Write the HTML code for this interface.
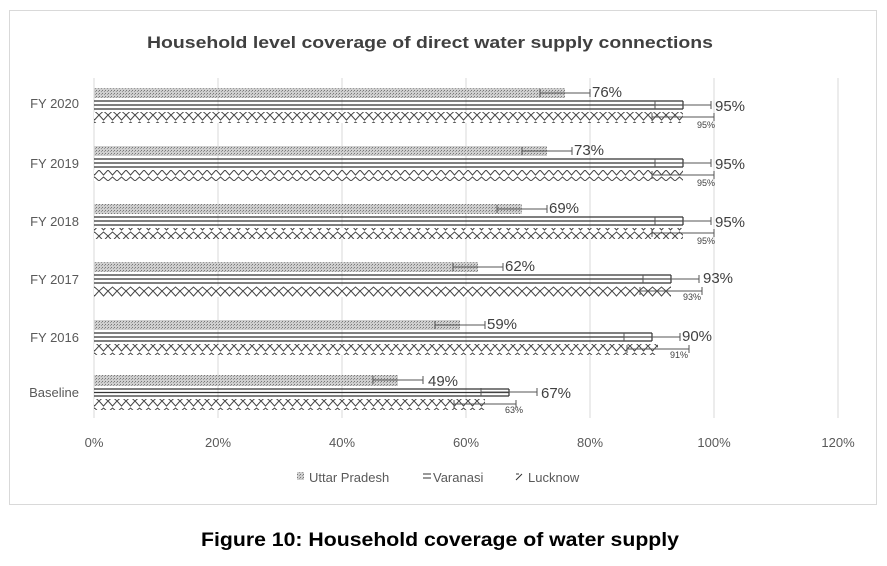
<!DOCTYPE html>
<html><head><meta charset="utf-8"><style>
html,body{margin:0;padding:0;background:#fff;}
svg{display:block;font-family:"Liberation Sans","DejaVu Sans",sans-serif;}
</style></head><body>
<svg width="887" height="566" viewBox="0 0 887 566" xmlns="http://www.w3.org/2000/svg">
<defs>
<pattern id="dots" width="3" height="3" patternUnits="userSpaceOnUse">
<rect width="3" height="3" fill="#cfcfcf"/><rect width="1" height="1" fill="#777"/><rect x="2" y="1" width="1" height="1" fill="#999"/>
</pattern>
<pattern id="zig" width="9" height="11" patternUnits="userSpaceOnUse">
<rect width="9" height="11" fill="#fff"/>
<path d="M0,5 L4.5,1 L9,5 M0,5 L4.5,10 L9,5" stroke="#444" stroke-width="1" fill="none"/>
</pattern>
</defs>
<rect x="9.5" y="10.5" width="867" height="494" fill="#fff" stroke="#d9d9d9"/>
<text x="430" y="48" text-anchor="middle" font-size="17" font-weight="bold" fill="#404040" textLength="566" lengthAdjust="spacingAndGlyphs">Household level coverage of direct water supply connections</text>
<g stroke="#d9d9d9" stroke-width="1">
<line x1="94" y1="78" x2="94" y2="418"/><line x1="218" y1="78" x2="218" y2="418"/><line x1="342" y1="78" x2="342" y2="418"/><line x1="466" y1="78" x2="466" y2="418"/><line x1="590" y1="78" x2="590" y2="418"/><line x1="714" y1="78" x2="714" y2="418"/><line x1="838" y1="78" x2="838" y2="418"/>
</g>
<g font-size="13" fill="#595959" text-anchor="middle">
<text x="94" y="447">0%</text><text x="218" y="447">20%</text><text x="342" y="447">40%</text><text x="466" y="447">60%</text><text x="590" y="447">80%</text><text x="714" y="447">100%</text><text x="838" y="447">120%</text>
</g>
<g font-size="13" fill="#595959" text-anchor="end">
<text x="79" y="108">FY 2020</text><text x="79" y="168">FY 2019</text><text x="79" y="226">FY 2018</text><text x="79" y="284">FY 2017</text><text x="79" y="342">FY 2016</text><text x="79" y="397">Baseline</text>
</g>
<g id="bars">
<rect x="94" y="88" width="471" height="10" fill="url(#dots)"/>
<g stroke="#333" stroke-width="1.2"><line x1="94" y1="101" x2="683" y2="101"/><line x1="94" y1="105" x2="683" y2="105"/><line x1="94" y1="109" x2="683" y2="109"/><line x1="683" y1="101" x2="683" y2="109"/></g>
<rect x="94" y="112" width="589" height="11" fill="url(#zig)"/>
<rect x="94" y="146" width="453" height="10" fill="url(#dots)"/>
<g stroke="#333" stroke-width="1.2"><line x1="94" y1="159" x2="683" y2="159"/><line x1="94" y1="163" x2="683" y2="163"/><line x1="94" y1="167" x2="683" y2="167"/><line x1="683" y1="159" x2="683" y2="167"/></g>
<rect x="94" y="170" width="589" height="11" fill="url(#zig)"/>
<rect x="94" y="204" width="428" height="10" fill="url(#dots)"/>
<g stroke="#333" stroke-width="1.2"><line x1="94" y1="217" x2="683" y2="217"/><line x1="94" y1="221" x2="683" y2="221"/><line x1="94" y1="225" x2="683" y2="225"/><line x1="683" y1="217" x2="683" y2="225"/></g>
<rect x="94" y="228" width="589" height="11" fill="url(#zig)"/>
<rect x="94" y="262" width="384" height="10" fill="url(#dots)"/>
<g stroke="#333" stroke-width="1.2"><line x1="94" y1="275" x2="671" y2="275"/><line x1="94" y1="279" x2="671" y2="279"/><line x1="94" y1="283" x2="671" y2="283"/><line x1="671" y1="275" x2="671" y2="283"/></g>
<rect x="94" y="286" width="577" height="11" fill="url(#zig)"/>
<rect x="94" y="320" width="366" height="10" fill="url(#dots)"/>
<g stroke="#333" stroke-width="1.2"><line x1="94" y1="333" x2="652" y2="333"/><line x1="94" y1="337" x2="652" y2="337"/><line x1="94" y1="341" x2="652" y2="341"/><line x1="652" y1="333" x2="652" y2="341"/></g>
<rect x="94" y="344" width="564" height="11" fill="url(#zig)"/>
<rect x="94" y="375" width="304" height="11" fill="url(#dots)"/>
<g stroke="#333" stroke-width="1.2"><line x1="94" y1="389" x2="509" y2="389"/><line x1="94" y1="392.5" x2="509" y2="392.5"/><line x1="94" y1="396" x2="509" y2="396"/><line x1="509" y1="389" x2="509" y2="396"/></g>
<rect x="94" y="399" width="391" height="11" fill="url(#zig)"/>
</g>
<g stroke="#555" stroke-width="1" fill="none">
<path d="M540,93H590M540,89V97M590,89V97"/><path d="M655,105H711M655,101V109M711,101V109"/><path d="M652,117H714M652,113V121M714,113V121"/>
<path d="M522,151H572M522,147V155M572,147V155"/><path d="M655,163H711M655,159V167M711,159V167"/><path d="M652,175H714M652,171V179M714,171V179"/>
<path d="M497,209H547M497,205V213M547,205V213"/><path d="M655,221H711M655,217V225M711,217V225"/><path d="M652,233H714M652,229V237M714,229V237"/>
<path d="M453,267H503M453,263V271M503,263V271"/><path d="M643,279H699M643,275V283M699,275V283"/><path d="M640,291H702M640,287V295M702,287V295"/>
<path d="M435,325H485M435,321V329M485,321V329"/><path d="M624,337H680M624,333V341M680,333V341"/><path d="M627,349H689M627,345V353M689,345V353"/>
<path d="M373,380H423M373,376V384M423,376V384"/><path d="M481,392H537M481,388V396M537,388V396"/><path d="M454,404H516M454,400V408M516,400V408"/>
</g>
<g font-size="15" fill="#404040">
<text x="592" y="97">76%</text><text x="715" y="111">95%</text>
<text x="574" y="155">73%</text><text x="715" y="169">95%</text>
<text x="549" y="213">69%</text><text x="715" y="227">95%</text>
<text x="505" y="271">62%</text><text x="703" y="283">93%</text>
<text x="487" y="329">59%</text><text x="682" y="341">90%</text>
<text x="428" y="386">49%</text><text x="541" y="398">67%</text>
</g>
<g font-size="9" fill="#404040">
<text x="697" y="128">95%</text><text x="697" y="186">95%</text><text x="697" y="244">95%</text>
<text x="683" y="300">93%</text><text x="670" y="358">91%</text><text x="505" y="413">63%</text>
</g>
<rect x="297" y="472" width="7" height="8" fill="url(#dots)"/>
<text x="309" y="482" font-size="13" fill="#595959">Uttar Pradesh</text>
<g stroke="#333"><line x1="423" y1="474" x2="431" y2="474"/><line x1="423" y1="478" x2="431" y2="478"/></g>
<text x="433" y="482" font-size="13" fill="#595959">Varanasi</text>
<path d="M516,480L522,474M516,474H519" stroke="#333" fill="none"/>
<text x="528" y="482" font-size="13" fill="#595959">Lucknow</text>
<text x="440" y="546" text-anchor="middle" font-size="19" font-weight="bold" fill="#000" textLength="478" lengthAdjust="spacingAndGlyphs">Figure 10: Household coverage of water supply</text>
</svg>
</body></html>
